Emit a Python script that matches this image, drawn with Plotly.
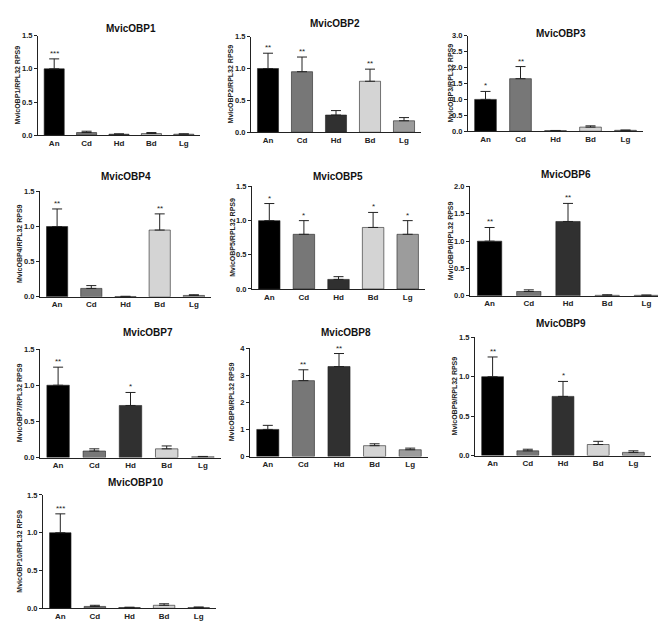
import plotly.graph_objects as go

W, H = 666, 627

tissues = ["An", "Cd", "Hd", "Bd", "Lg"]
colors = ["#000000", "#777777", "#303030", "#d4d4d4", "#9c9c9c"]

genes = ["MvicOBP1", "MvicOBP2", "MvicOBP3", "MvicOBP4", "MvicOBP5",
         "MvicOBP6", "MvicOBP7", "MvicOBP8", "MvicOBP9", "MvicOBP10"]

obp1 = [1.0, 0.04, 0.015, 0.025, 0.015]
obp1_err = [0.15, 0.02, 0.005, 0.015, 0.006]
obp2 = [1.0, 0.95, 0.27, 0.80, 0.18]
obp2_err = [0.24, 0.23, 0.07, 0.19, 0.05]
obp3 = [1.0, 1.65, 0.02, 0.13, 0.03]
obp3_err = [0.25, 0.38, 0.005, 0.04, 0.006]
obp4 = [1.0, 0.12, 0.005, 0.95, 0.02]
obp4_err = [0.25, 0.04, 0.003, 0.23, 0.01]
obp5 = [1.0, 0.80, 0.14, 0.90, 0.80]
obp5_err = [0.25, 0.20, 0.04, 0.22, 0.20]
obp6 = [1.0, 0.08, 1.36, 0.01, 0.01]
obp6_err = [0.25, 0.03, 0.33, 0.01, 0.005]
obp7 = [1.0, 0.09, 0.72, 0.12, 0.01]
obp7_err = [0.25, 0.03, 0.18, 0.04, 0.005]
obp8 = [1.0, 2.8, 3.32, 0.40, 0.25]
obp8_err = [0.15, 0.40, 0.48, 0.07, 0.06]
obp9 = [1.0, 0.06, 0.75, 0.14, 0.04]
obp9_err = [0.25, 0.02, 0.19, 0.04, 0.02]
obp10 = [1.0, 0.025, 0.01, 0.04, 0.01]
obp10_err = [0.25, 0.015, 0.005, 0.02, 0.008]

stars = [
    ["***", "", "", "", ""],
    ["**", "**", "", "**", ""],
    ["*", "**", "", "", ""],
    ["**", "", "", "**", ""],
    ["*", "*", "", "*", "*"],
    ["**", "", "**", "", ""],
    ["**", "", "*", "", ""],
    ["", "**", "**", "", ""],
    ["**", "", "*", "", ""],
    ["***", "", "", "", ""],
]

values = [obp1, obp2, obp3, obp4, obp5, obp6, obp7, obp8, obp9, obp10]
errors = [obp1_err, obp2_err, obp3_err, obp4_err, obp5_err,
          obp6_err, obp7_err, obp8_err, obp9_err, obp10_err]

y_max = [1.5, 1.5, 3.0, 1.5, 1.5, 2.0, 1.5, 4, 1.5, 1.5]
y_dtick = [0.5, 0.5, 0.5, 0.5, 0.5, 0.5, 0.5, 1, 0.5, 0.5]
y_fmt = [".1f"] * 7 + ["d"] + [".1f"] * 2

# layout in pixels: (x0, x1, ytop, ybottom)
boxes = [
    (30, 192, 24, 125), (243, 413, 25, 122), (460, 635, 24, 121),
    (32, 203, 182, 289), (244, 417, 177, 281), (462, 658, 177, 288),
    (32, 213, 342, 452), (242, 420, 341, 451), (467, 643, 330, 450),
    (35, 208, 490, 605),
]
title_pos = [(123, 17), (327, 12), (553, 22), (118, 167), (330, 167),
             (558, 165), (140, 325), (338, 325), (553, 316), (127, 477)]
ytitle_x = [9, 222, 442, 11, 225, 442, 11, 223, 446, 12]

fig = go.Figure()
annotations = []
FONT = "Liberation Sans, Arial, sans-serif"

for i, g in enumerate(genes):
    n = i + 1
    xa = "x" if n == 1 else f"x{n}"
    ya = "y" if n == 1 else f"y{n}"
    fig.add_trace(go.Bar(
        x=tissues, y=values[i], xaxis=xa, yaxis=ya,
        marker=dict(color=colors, line=dict(color="#222", width=0.6)),
        width=0.62,
        error_y=dict(type="data", array=errors[i], symmetric=False,
                     arrayminus=[0] * 5, color="#222", thickness=1, width=5),
        showlegend=False, hoverinfo="x+y",
    ))
    x0, x1, yt, yb = boxes[i]
    lay_x = "xaxis" if n == 1 else f"xaxis{n}"
    lay_y = "yaxis" if n == 1 else f"yaxis{n}"
    fig.layout[lay_x] = dict(
        domain=[x0 / W, x1 / W], anchor=ya, range=[-0.5, 4.5],
        showline=True, linecolor="#222", linewidth=1, ticks="",
        tickfont=dict(family=FONT, size=8, color="#222", weight="bold"),
        showgrid=False, zeroline=False, fixedrange=True,
    )
    fig.layout[lay_y] = dict(
        domain=[1 - yb / H, 1 - yt / H], anchor=xa, range=[0, y_max[i]],
        dtick=y_dtick[i], tick0=0, tickformat=y_fmt[i],
        showline=True, linecolor="#222", linewidth=1, ticks="outside",
        ticklen=3, tickcolor="#222",
        tickfont=dict(family=FONT, size=7.5, color="#222", weight="bold"),
        showgrid=False, zeroline=False, fixedrange=True,
    )
    tx, ty = title_pos[i]
    annotations.append(dict(
        text=f"<b>{g}</b>", x=tx / W, y=1 - ty / H, xref="paper", yref="paper",
        showarrow=False, xanchor="center", yanchor="middle",
        font=dict(family=FONT, size=10, color="#111"),
    ))
    annotations.append(dict(
        text=f"<b>{g}/RPL32 RPS9</b>", x=ytitle_x[i] / W,
        y=1 - (yt + yb) / 2 / H, xref="paper", yref="paper",
        showarrow=False, textangle=-90, xanchor="center", yanchor="middle",
        font=dict(family=FONT, size=7, color="#222"),
    ))
    for j, s in enumerate(stars[i]):
        if s:
            annotations.append(dict(
                text=s, x=tissues[j], y=values[i][j] + errors[i][j],
                xref=xa, yref=ya, showarrow=False, yanchor="bottom",
                yshift=-1, font=dict(family=FONT, size=8, color="#222"),
            ))

fig.update_layout(
    width=W, height=H, margin=dict(l=0, r=0, t=0, b=0),
    paper_bgcolor="white", plot_bgcolor="white",
    annotations=annotations, bargap=0.38,
)

fig.write_html("out.html")
